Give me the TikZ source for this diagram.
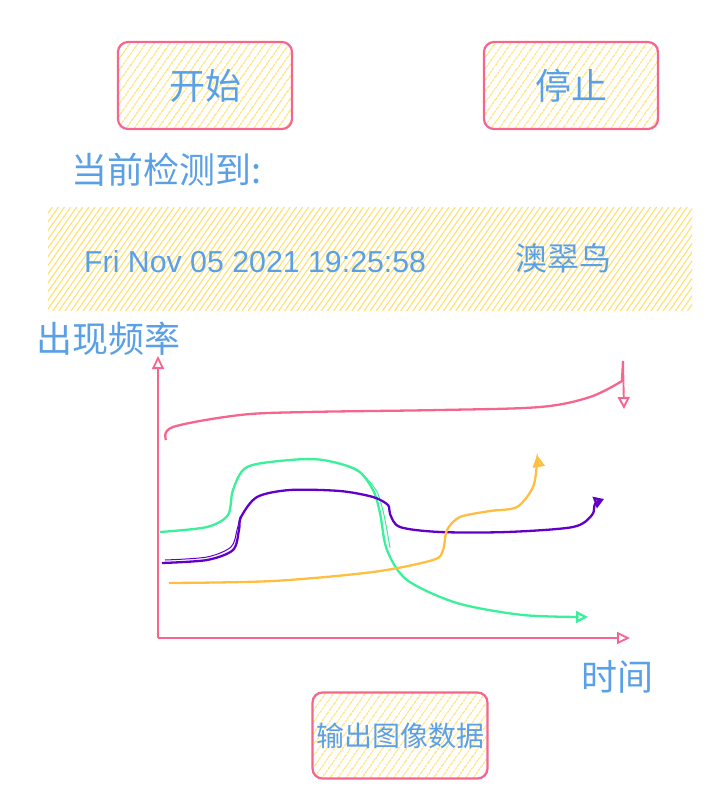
\documentclass[tikz,border=0pt]{standalone}
\usepackage{fontspec}
\setmainfont{Liberation Sans}
\newfontfamily\cjk{Noto Sans CJK SC}
\usetikzlibrary{arrows.meta,patterns.meta}
\definecolor{skpink}{HTML}{F5658E}
\definecolor{skyellow}{HTML}{FFDF6A}
\definecolor{skblue}{HTML}{5AA0E6}
\definecolor{skgreen}{HTML}{3BF09A}
\definecolor{skpurple}{HTML}{6200C8}
\definecolor{skorange}{HTML}{FFBE40}
\tikzset{
  hatchbox/.style={draw=skpink, line width=2.2pt, rounded corners=10pt,
    pattern={Lines[angle=55,distance=6.5pt,line width=1.2pt]}, pattern color=skyellow,
    minimum width=174pt, minimum height=87pt, inner sep=0pt},
  hatchband/.style={pattern={Lines[angle=55,distance=5pt,line width=1.1pt]}, pattern color=skyellow,
    minimum width=644pt, minimum height=103pt, inner sep=0pt},
  btntext/.style={text=skblue, font=\cjk\fontsize{36}{40}\selectfont},
  lbl/.style={text=skblue, font=\cjk\fontsize{36}{40}\selectfont, inner sep=0pt},
  axis/.style={draw=skpink, line width=1.8pt, -{Triangle[open,length=13pt,width=12pt]}},
  curve/.style={line width=2.3pt, -{Triangle[open,length=12pt,width=12pt]}},
}
\begin{document}
\begin{tikzpicture}[x=1pt,y=-1pt]
\useasboundingbox (0,0) rectangle (728,796);
% buttons
\node[hatchbox] (start) at (205,85.5) {};
\node[btntext] at (start) {开始};
\node[hatchbox] (stop) at (571,85.5) {};
\node[btntext] at (stop) {停止};
\node[hatchbox, minimum width=175pt, minimum height=86pt] (export) at (400,735.5) {};
\node[text=skblue, font=\cjk\fontsize{28}{32}\selectfont] at (export) {输出图像数据};
% detected label
\node[lbl, anchor=west] (det) at (71,170) {当前检测到:};
% band
\node[hatchband] (band) at (370,258.5) {};
\node[text=skblue, font=\fontsize{30.3}{34}\selectfont, anchor=west, inner sep=0pt] (time) at (84,262) {Fri Nov 05 2021 19:25:58};
\node[text=skblue, font=\cjk\fontsize{32}{36}\selectfont] (bird) at (563,258) {澳翠鸟};
% axes labels
\node[lbl, anchor=west] (ylab) at (36,339) {出现频率};
\node[lbl] (xlab) at (617,677) {时间};
% axes
\coordinate (O) at (158,638);
\coordinate (ytop) at (158,356);
\coordinate (xend) at (630,638);
\draw[axis] (O) -- (ytop);
\draw[axis] (O) -- (xend);
% pink curve
\draw[skpink, line width=2.3pt, line join=round] plot[smooth, tension=0.55] coordinates {(166,440) (173,427) (240,415) (307,412) (440,410) (540,407) (590,397) (622,381)} -- (623,361);
\coordinate (pk1) at (623,361);
\coordinate (pk2) at (624,409);
\draw[skpink, curve, line width=1.9pt] (pk1) -- (pk2);
% green curve
\draw[skgreen, curve] plot[smooth, tension=0.5] coordinates {(160,532) (207,527) (228,515) (233,490) (247,467) (290,460) (323,460) (357,470) (373,490) (380,513) (387,550) (407,580) (457,603) (523,615) (588,617)};
\draw[skgreen, line width=1pt] plot[smooth, tension=0.5] coordinates {(340,463) (362,474) (377,492) (384,515) (390,548)};
% purple curve
\draw[skpurple, curve, -{Triangle[open,length=10pt,width=12pt]}] plot[smooth, tension=0.5] coordinates {(162,563) (207,560) (233,550) (239,530) (241,517) (257,497) (290,490) (340,491) (373,497) (388,505) (390,514) (400,527) (440,532) (507,532) (573,527) (592,515) (595,504) (604,499)};
\draw[skpurple, line width=1pt] plot[smooth, tension=0.5] coordinates {(165,560) (207,557) (231,547) (237,530) (240,517)};
% orange curve
\draw[skorange, curve] plot[smooth, tension=0.5] coordinates {(169,583) (273,581) (373,572) (433,560) (443,550) (447,530) (460,517) (490,511) (517,507) (533,487) (537,463) (537,455)};
\end{tikzpicture}
\end{document}
